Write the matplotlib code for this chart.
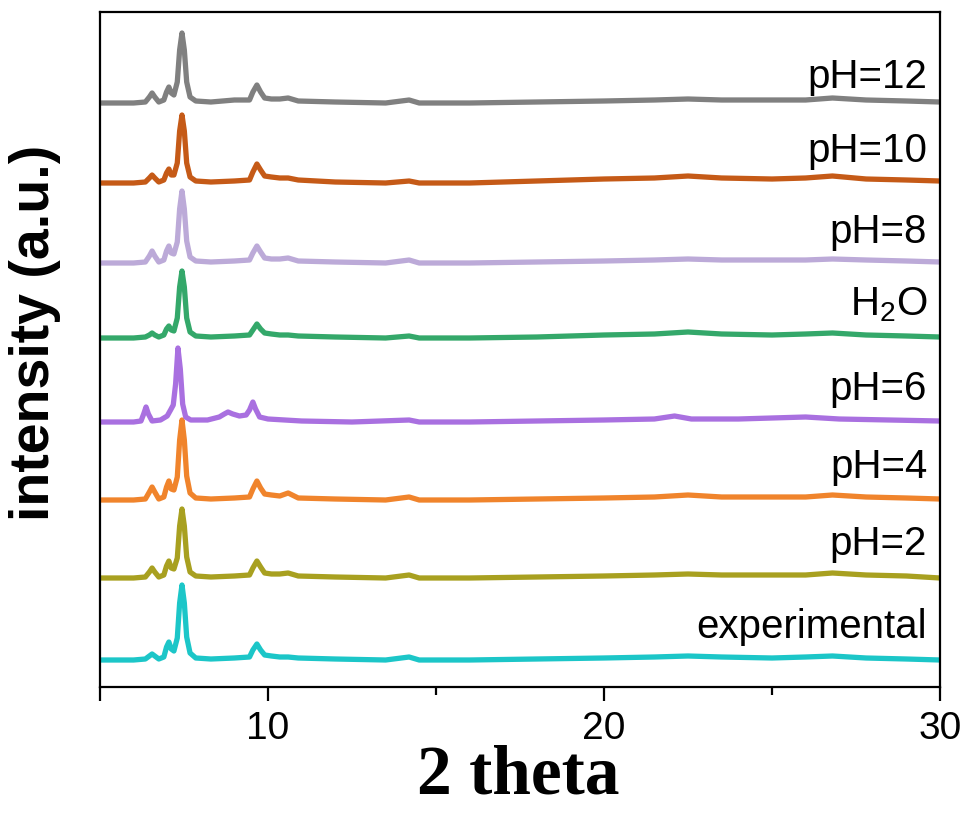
import matplotlib
matplotlib.use("Agg")
import matplotlib.pyplot as plt
import numpy as np

plt.rcParams['font.family'] = ['Liberation Sans', 'DejaVu Sans']
plt.rcParams['mathtext.fontset'] = 'custom'
plt.rcParams['mathtext.rm'] = 'Liberation Sans'

# ---- data (2 theta grid and relative intensities) ----
X_COMMON = [5.0, 6.0, 6.35, 6.47, 6.55, 6.63, 6.75,
            6.9, 6.98, 7.05, 7.12, 7.2,
            7.3, 7.37, 7.44, 7.51, 7.58, 7.68, 7.85,
            8.3, 9.0, 9.45, 9.55, 9.67, 9.78, 9.9,
            10.1, 10.35, 10.6, 10.9, 12.0,
            13.5, 14.2, 14.5, 16.0, 18.0, 20.0,
            21.5, 22.5, 23.5, 25.0, 26.0, 26.8, 27.8, 29.0, 30.0]

EXPERIMENTAL = [0, 0, 1, 4, 6, 4, 1, 3, 13, 18, 11, 9, 22, 57, 75, 57, 23, 7, 2,
                1, 2, 3, 10, 16, 10, 5, 4, 3, 3, 2, 1, 0, 3, 0, 0, 1, 2,
                3, 4, 3, 2, 3, 4, 2, 1, 0]
PH2 = [0, 0, 1, 6, 10, 6, 1, 3, 12, 17, 10, 9, 20, 52, 69, 52, 21, 6, 2,
       1, 2, 3, 10, 17, 11, 5, 4, 4, 5, 2, 1, 0, 3, 0, 0, 1, 2,
       3, 4, 3, 3, 3, 5, 3, 2, 0]
PH4 = [0, 0, 1, 8, 13, 8, 1, 3, 13, 19, 11, 10, 23, 60, 80, 60, 24, 7, 2,
       1, 2, 3, 11, 19, 12, 6, 5, 4, 7, 2, 1, 0, 3, 0, 0, 1, 2,
       3, 5, 3, 3, 3, 5, 3, 2, 1]
H2O = [0, 0, 1, 3, 5, 3, 1, 3, 9, 12, 8, 7, 20, 51, 67, 51, 20, 6, 2,
       1, 2, 3, 8, 14, 9, 5, 4, 3, 3, 2, 1, 0, 2, 0, 0, 1, 3,
       4, 6, 4, 3, 4, 5, 3, 2, 1]
PH8 = [0, 0, 1, 7, 12, 7, 1, 3, 12, 17, 10, 9, 21, 54, 72, 54, 22, 6, 2,
       1, 2, 3, 10, 17, 11, 5, 4, 4, 5, 2, 1, 0, 3, 0, 0, 1, 2,
       3, 4, 3, 3, 3, 4, 3, 2, 1]
PH10 = [0, 0, 1, 5, 8, 5, 1, 3, 10, 14, 8, 8, 20, 52, 68, 52, 20, 6, 2,
        1, 2, 3, 11, 19, 13, 7, 6, 5, 5, 3, 1, 0, 2, 0, 0, 2, 4,
        5, 7, 5, 4, 5, 7, 4, 3, 2]
PH12 = [0, 0, 1, 6, 10, 6, 1, 3, 11, 16, 10, 8, 21, 53, 70, 53, 21, 6, 2,
        1, 3, 3, 11, 18, 11, 5, 4, 4, 5, 2, 1, 0, 3, 0, 0, 1, 2,
        3, 4, 3, 3, 3, 5, 3, 2, 1]

X_PH6 = [5.0, 6.0, 6.22, 6.3, 6.37, 6.44, 6.55,
         6.8, 7.0, 7.1, 7.18, 7.25,
         7.32, 7.39, 7.46, 7.55, 7.7,
         8.2, 8.55, 8.7, 8.81, 8.95, 9.15,
         9.35, 9.45, 9.55, 9.63, 9.75, 10.0,
         10.5, 11.0, 12.5, 14.2, 14.5, 16.0,
         18.0, 20.0, 21.5, 22.1, 22.6, 24.0, 26.0, 27.0, 28.5, 30.0]
PH6 = [0, 0, 1, 8, 15, 8, 1, 2, 6, 12, 17, 38, 74, 53, 18, 5, 2,
       2, 5, 8, 10, 8, 6, 7, 12, 20, 13, 5, 3, 2, 1, 0, 2, 0, 0,
       1, 2, 3, 6, 3, 3, 5, 3, 2, 1]

SERIES = ["experimental", "pH=2", "pH=4", "pH=6", "H$_\\mathrm{2}$O", "pH=8", "pH=10", "pH=12"]
VALUES = [EXPERIMENTAL, PH2, PH4, PH6, H2O, PH8, PH10, PH12]
XS = [X_COMMON, X_COMMON, X_COMMON, X_PH6, X_COMMON, X_COMMON, X_COMMON, X_COMMON]
OFFSETS = [27, 109, 187, 265, 349, 424, 504, 584]
LABEL_Y = [49, 132, 209, 287, 372, 444, 525, 599]
COLORS = ["#1cc6c8", "#a8a020", "#f0842c", "#a970e0", "#34a86a", "#bcaad8", "#c55a17", "#808080"]

fig = plt.figure(figsize=(9.7, 8.16), dpi=100)
ax = fig.add_axes([100/970, 1-687/816, 840/970, 675/816])

for xs, vals, off, col in zip(XS, VALUES, OFFSETS, COLORS):
    ax.plot(xs, np.asarray(vals) + off, color=col, lw=3.8,
            solid_joinstyle='round', solid_capstyle='round')

for name, ly in zip(SERIES, LABEL_Y):
    ax.text(29.62, ly, name, ha='right', va='baseline', fontsize=29, color='black')

ax.set_xlim(5, 30)
ax.set_ylim(0, 675)
ax.set_xticks([5, 10, 20, 30])
ax.set_xticklabels(['', '10', '20', '30'])
ax.set_xticks([15, 25], minor=True)
ax.set_yticks([])
ax.tick_params(axis='x', which='major', direction='out', length=10, width=1.6,
               labelsize=28, pad=7)
ax.tick_params(axis='x', which='minor', direction='out', length=6, width=1.6)
for s in ax.spines.values():
    s.set_linewidth(1.6)

fig.text(35/970, 1-333/816, "intensity (a.u.)", rotation=90, ha='center', va='center',
         fontsize=40, fontweight='bold')
fig.text(518/970, 1-777/816, "2 theta", ha='center', va='center',
         fontsize=50, fontweight='bold', family='Liberation Serif')

fig.savefig("out.png", dpi=100)
